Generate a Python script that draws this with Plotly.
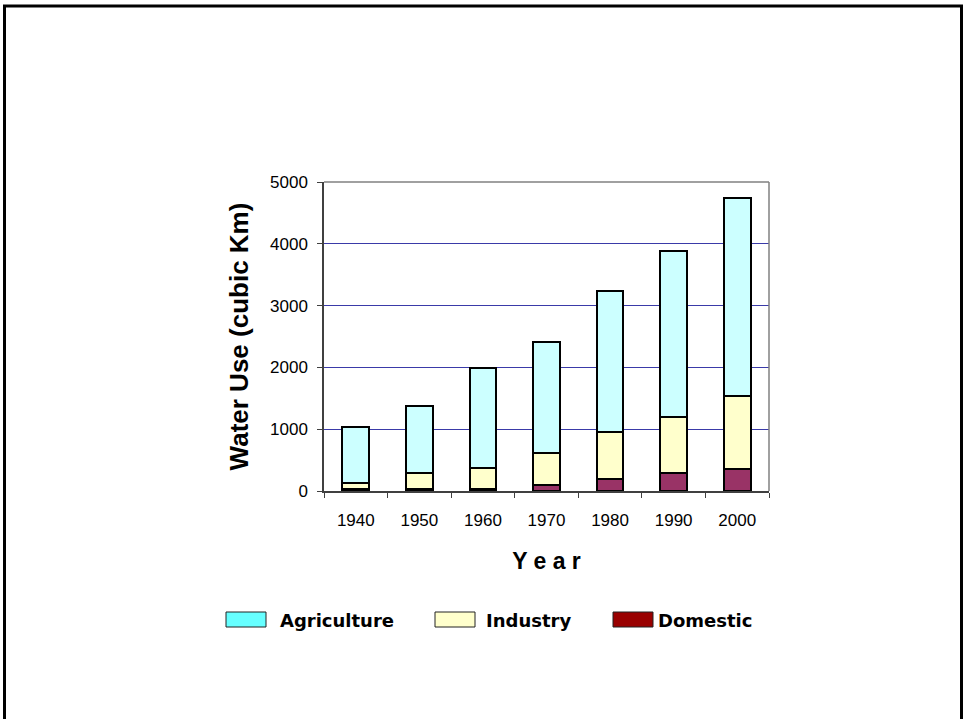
import plotly.graph_objects as go

years = ["1940", "1950", "1960", "1970", "1980", "1990", "2000"]
domestic = [30, 40, 35, 90, 190, 290, 350]
industry = [105, 250, 345, 520, 770, 900, 1180]
agriculture = [895, 1090, 1610, 1795, 2270, 2690, 3215]

series_names = ["Domestic", "Industry", "Agriculture"]
bar_colors = ["#993366", "#FFFFCC", "#CCFFFF"]
legend_order = ["Agriculture", "Industry", "Domestic"]
legend_colors = ["#66FFFF", "#FFFFCC", "#990000"]

fig = go.Figure()
for name, vals, col in zip(series_names, [domestic, industry, agriculture], bar_colors):
    fig.add_trace(go.Bar(
        x=years, y=vals, name=name, marker=dict(color=col, line=dict(color="black", width=2)),
        showlegend=False,
    ))

L, R, T, B = 324, 769, 182, 491
W, H = 965, 719
def px(x):
    return (x - L) / (R - L)
def py(y):
    return (B - y) / (B - T)

shapes = []
# outer frame
shapes.append(dict(type="rect", xref="paper", yref="paper",
                   x0=px(4.5), x1=px(961.5), y0=py(730), y1=py(6),
                   line=dict(color="black", width=3), fillcolor="rgba(0,0,0,0)", layer="below"))
# plot area frame (top & right)
shapes.append(dict(type="line", xref="paper", yref="paper", x0=0, x1=1, y0=1, y1=1,
                   line=dict(color="#808080", width=1.5)))
shapes.append(dict(type="line", xref="paper", yref="paper", x0=1, x1=1, y0=0, y1=1,
                   line=dict(color="#808080", width=1.5)))

annotations = []
legend_swatch_x = [226, 435, 613]
legend_text_x = [278, 484, 656]
for name, col, sx, tx in zip(legend_order, legend_colors, legend_swatch_x, legend_text_x):
    shapes.append(dict(type="rect", xref="paper", yref="paper",
                       x0=px(sx), x1=px(sx + 40), y0=py(627), y1=py(612),
                       line=dict(color="#222222", width=1), fillcolor=col))
    annotations.append(dict(xref="paper", yref="paper", x=px(tx), y=py(620),
                            xanchor="left", yanchor="middle", showarrow=False,
                            text="<b>" + name + "</b>",
                            font=dict(family="DejaVu Sans", size=18, color="black")))

fig.update_layout(
    width=W, height=H,
    margin=dict(l=L, r=W - R, t=T, b=H - B),
    paper_bgcolor="white", plot_bgcolor="white",
    barmode="stack", bargap=0.58,
    shapes=shapes, annotations=annotations,
    font=dict(family="Liberation Sans, Arial, sans-serif", size=17, color="black"),
    xaxis=dict(
        type="category", tickson="boundaries", ticks="outside", ticklen=5,
        tickcolor="#404040", showline=True, linecolor="#404040", linewidth=1.5,
        showgrid=False, tickfont=dict(size=17), ticklabelstandoff=13,
        title=dict(text="<b>Y e a r</b>", font=dict(size=23), standoff=24),
    ),
    yaxis=dict(
        range=[0, 5000], dtick=1000, ticks="outside", ticklen=5,
        tickcolor="#404040", showline=True, linecolor="#404040", linewidth=1.5,
        showgrid=True, gridcolor="#3a3aa8", gridwidth=1, zeroline=False,
        tickfont=dict(size=17), ticklabelstandoff=6,
        title=dict(text="<b>Water Use (cubic Km)</b>", font=dict(size=26), standoff=14),
    ),
)

fig.write_html("out.html")
